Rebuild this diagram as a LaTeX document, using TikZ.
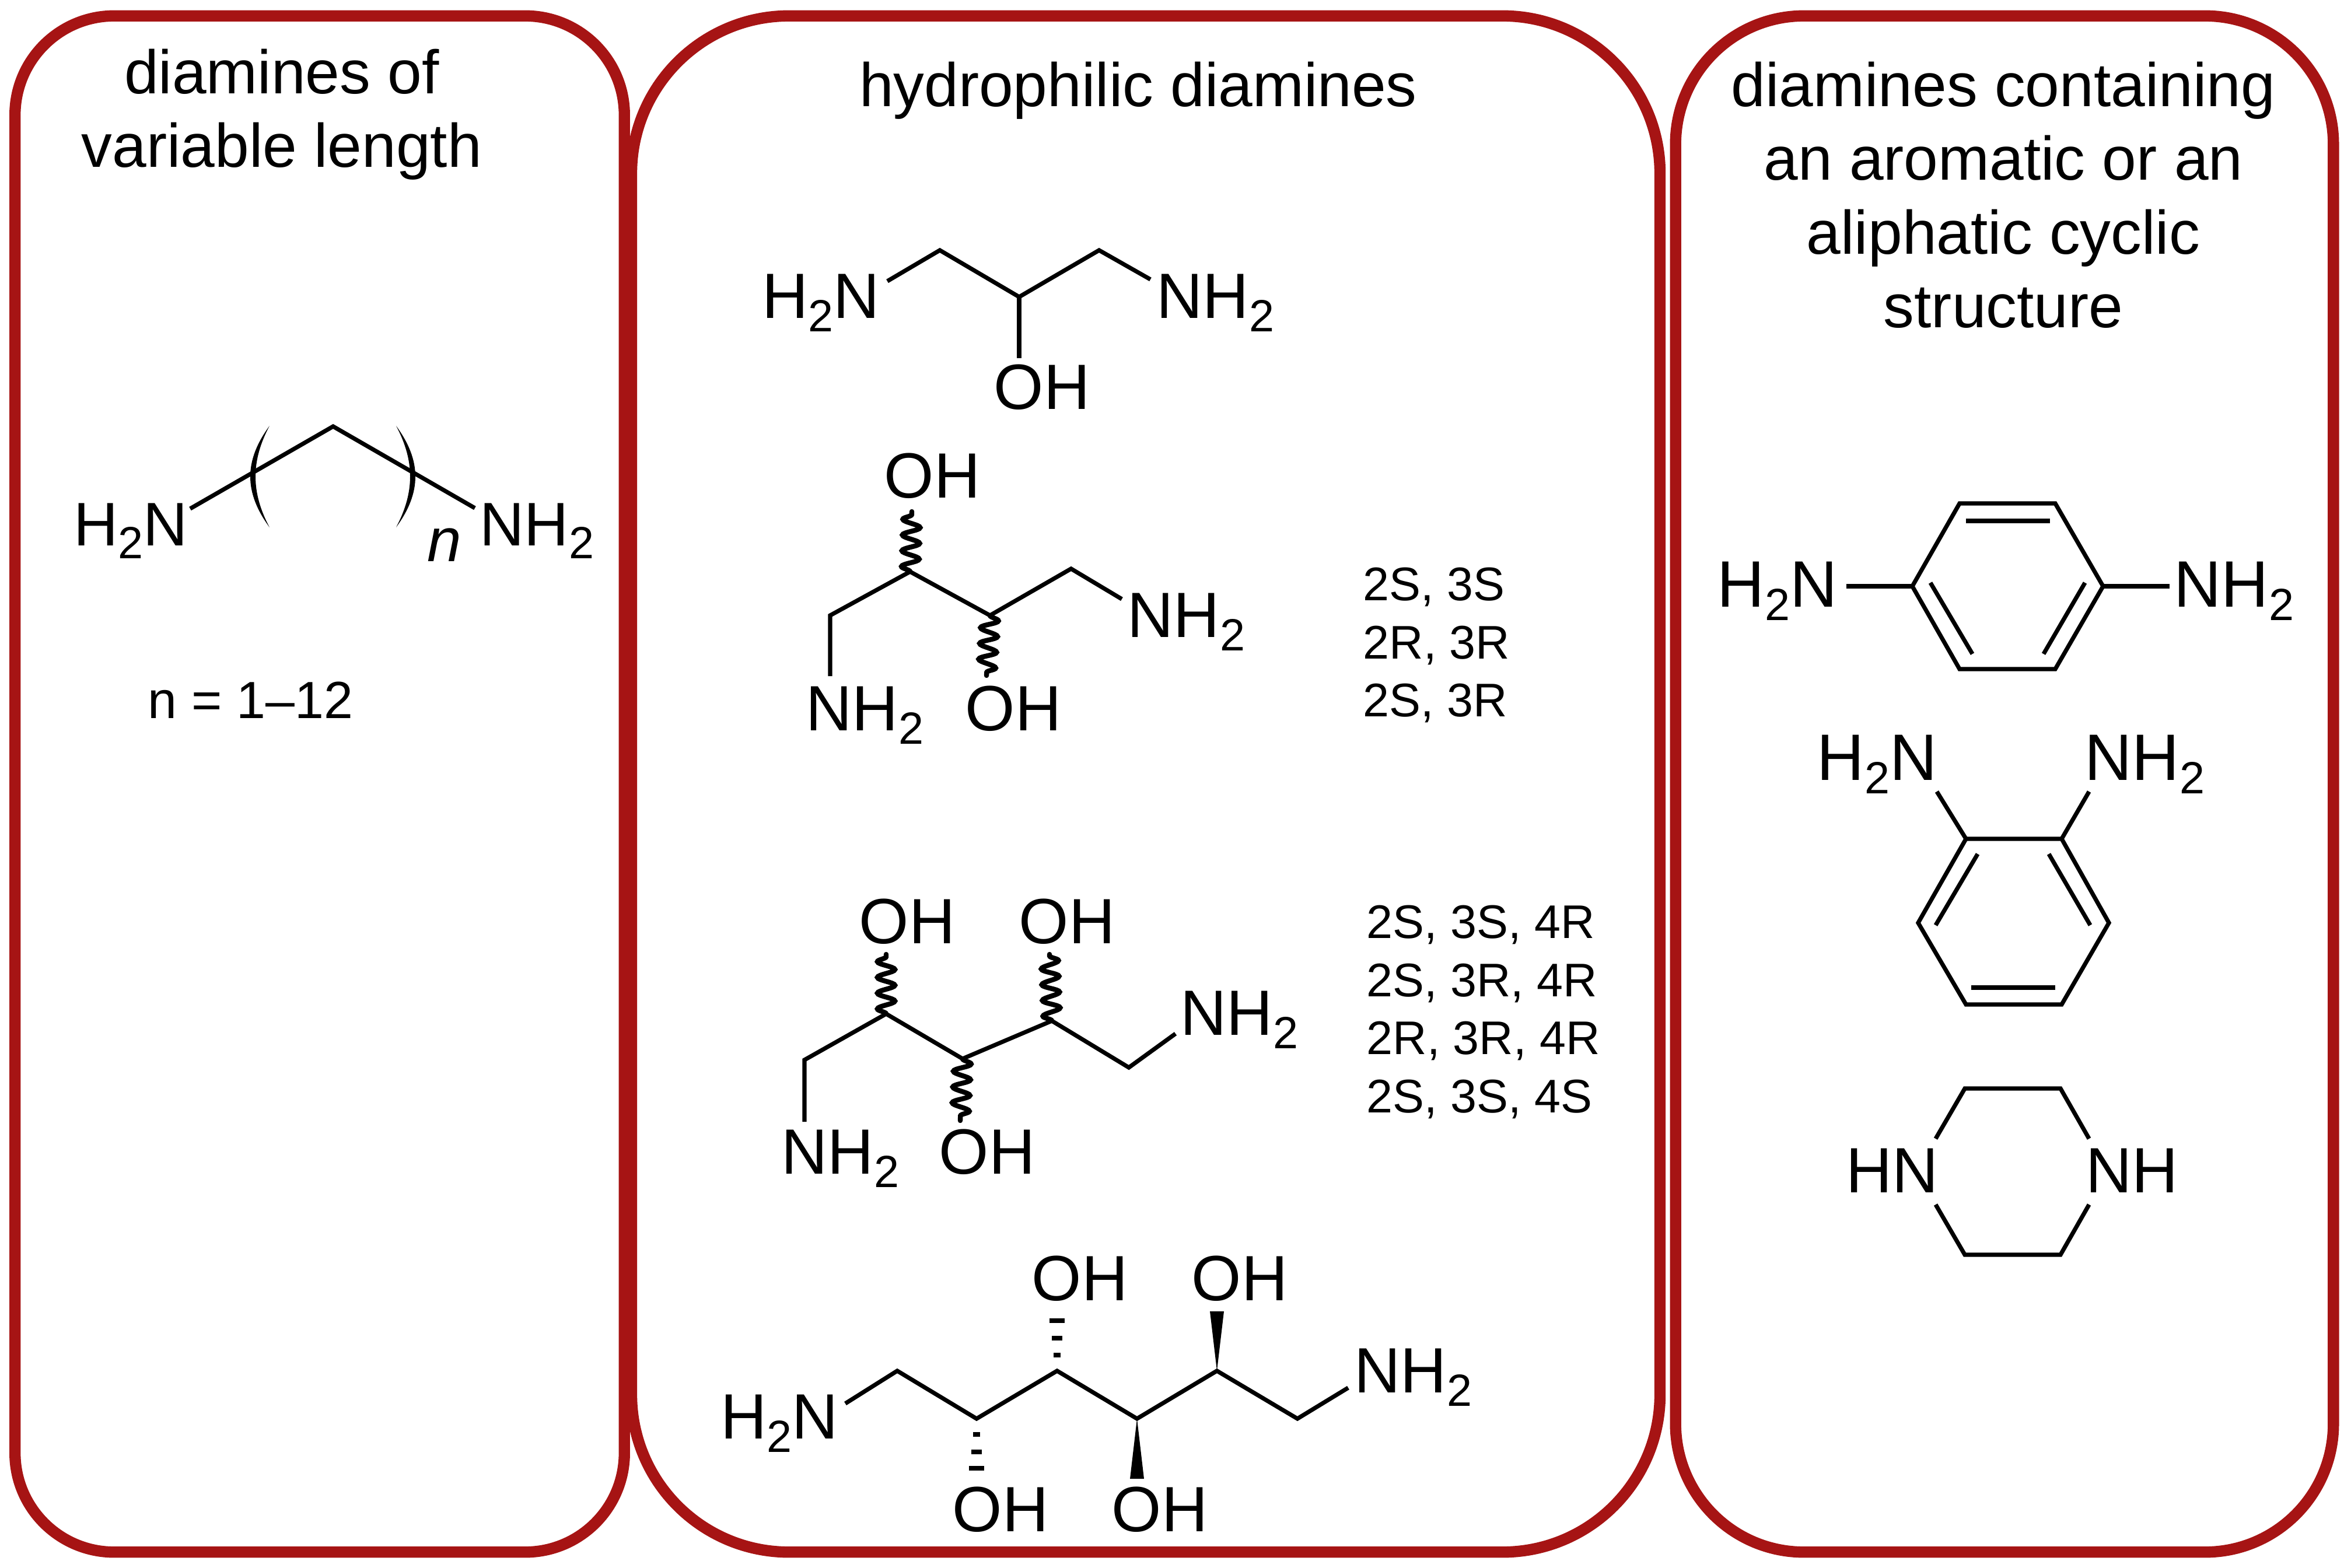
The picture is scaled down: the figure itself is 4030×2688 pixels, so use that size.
\documentclass[tikz,border=0pt]{standalone}
\usepackage{fontspec}
\setmainfont{Liberation Sans}
\usetikzlibrary{positioning,decorations.pathmorphing}

\definecolor{panelred}{RGB}{166,20,20}
\newcommand{\subtwo}{\raisebox{-0.21em}{\fontsize{22}{22}\selectfont 2}}

\begin{document}
\begin{tikzpicture}[x=0.01cm,y=-0.01cm]

        \tikzstyle{panel}=[shape=rectangle,draw=panelred,line width=5.5pt,inner sep=0pt]
        \tikzstyle{title}=[inner sep=0pt,anchor=north,align=center,font=\fontsize{30}{36}\selectfont]
        \tikzstyle{atom}=[inner sep=0pt,anchor=base west,xshift=-0.06cm,font=\fontsize{31.2}{36}\selectfont]
        \tikzstyle{smallatom}=[atom,font=\fontsize{30}{36}\selectfont]
        \tikzstyle{largeatom}=[atom,font=\fontsize{32}{36}\selectfont]
        \tikzstyle{isomer}=[inner sep=0pt,anchor=north west,align=left,font=\fontsize{23}{28.4}\selectfont]
        \tikzstyle{bond}=[line width=2.05pt,line join=miter]
        \tikzstyle{wavybond}=[line width=2.4pt,line cap=round,decorate,decoration={snake,amplitude=0.15cm,segment length=0.27cm}]

        \useasboundingbox (0,0) rectangle (4030,2688);

        \node[panel,minimum width=10.44cm,minimum height=26.32cm,rounded corners=1.7cm] (P1) at (548,1344) {};
        \node[panel,minimum width=17.62cm,minimum height=26.32cm,rounded corners=2.7cm] (P2) at (1964,1344) {};
        \node[panel,minimum width=11.27cm,minimum height=26.32cm,rounded corners=2.2cm] (P3) at (3436,1344) {};

        \node[title] (T1) at (483,83) {diamines of\\variable length};
        \node[title] (T2) at (1951,105) {hydrophilic diamines};
        \node[title] (T3) at (3434,105) {diamines containing\\an aromatic or an\\aliphatic cyclic\\structure};

        \node[smallatom] (A) at (132,935) {H\subtwo N};
        \node[smallatom] (B) at (828,935) {NH\subtwo};
        \node[atom,font=\fontsize{30}{36}\selectfont\itshape] (C) at (738,962) {n};
        \node[atom,font=\fontsize{25.5}{30}\selectfont] (D) at (259,1231) {n = 1–12};
        \coordinate (A1) at (326,872);
        \coordinate (A2) at (571,731);
        \coordinate (A3) at (814,871);
        \draw[bond] (A1) -- (A2) -- (A3);
        \fill (462,730) .. controls (418,790) and (418,844) .. (462,904) .. controls (430,844) and (430,790) .. (462,730);
        \fill (679,730) .. controls (723,790) and (723,844) .. (679,904) .. controls (711,844) and (711,790) .. (679,730);

        \node[atom] (E) at (1312,545) {H\subtwo N};
        \node[atom] (F) at (1988,545) {NH\subtwo};
        \node[atom] (G) at (1709,701) {OH};
        \coordinate (B1) at (1521,482);
        \coordinate (B2) at (1611,429);
        \coordinate (B3) at (1747,509);
        \coordinate (B4) at (1884,429);
        \coordinate (B5) at (1972,479);
        \coordinate (B6) at (1747,614);
        \draw[bond] (B1) -- (B2) -- (B3) -- (B4) -- (B5);
        \draw[bond] (B3) -- (B6);

        \node[atom] (H) at (1521,853) {OH};
        \node[atom] (I) at (1938,1092) {NH\subtwo};
        \node[atom] (J) at (1660,1252) {OH};
        \node[atom] (K) at (1387,1252) {NH\subtwo};
        \node[isomer] (L) at (2336,972) {2S, 3S\\2R, 3R\\2S, 3R};
        \coordinate (C1) at (1423,1159);
        \coordinate (C2) at (1423,1055);
        \coordinate (C3) at (1560,980);
        \coordinate (C4) at (1697,1055);
        \coordinate (C5) at (1836,975);
        \coordinate (C6) at (1923,1027);
        \coordinate (C7) at (1563,877);
        \coordinate (C8) at (1691,1158);
        \draw[bond] (C1) -- (C2) -- (C3) -- (C4) -- (C5) -- (C6);
        \draw[wavybond] (C3) -- (C7);
        \draw[wavybond] (C4) -- (C8);

        \node[atom] (M) at (1478,1617) {OH};
        \node[atom] (N) at (1752,1617) {OH};
        \node[atom] (O) at (2029,1774) {NH\subtwo};
        \node[atom] (Q) at (1615,2012) {OH};
        \node[atom] (R) at (1345,2012) {NH\subtwo};
        \node[isomer] (S) at (2342,1551) {2S, 3S, 4R\\2S, 3R, 4R\\2R, 3R, 4R\\2S, 3S, 4S};
        \coordinate (D1) at (1379,1923);
        \coordinate (D2) at (1379,1817);
        \coordinate (D3) at (1519,1738);
        \coordinate (D4) at (1650,1815);
        \coordinate (D5) at (1803,1750);
        \coordinate (D6) at (1935,1830);
        \coordinate (D7) at (2015,1772);
        \coordinate (D8) at (1519,1636);
        \coordinate (D9) at (1799,1636);
        \coordinate (D10) at (1646,1921);
        \draw[bond] (D1) -- (D2) -- (D3) -- (D4) -- (D5) -- (D6) -- (D7);
        \draw[wavybond] (D3) -- (D8);
        \draw[wavybond] (D5) -- (D9);
        \draw[wavybond] (D4) -- (D10);

        \node[atom] (U) at (1241,2466) {H\subtwo N};
        \node[atom] (V) at (2327,2387) {NH\subtwo};
        \node[atom] (W) at (1774,2229) {OH};
        \node[atom] (X) at (2048,2229) {OH};
        \node[atom] (Y) at (1638,2625) {OH};
        \node[atom] (Z) at (1911,2625) {OH};
        \coordinate (E1) at (1449,2406);
        \coordinate (E2) at (1538,2350);
        \coordinate (E3) at (1674,2432);
        \coordinate (E4) at (1812,2350);
        \coordinate (E5) at (1949,2432);
        \coordinate (E6) at (2086,2350);
        \coordinate (E7) at (2224,2432);
        \coordinate (E8) at (2311,2379);
        \draw[bond] (E1) -- (E2) -- (E3) -- (E4) -- (E5) -- (E6) -- (E7) -- (E8);
        \fill (E6) -- (2074,2248) -- (2098,2248) -- cycle;
        \fill (E5) -- (1937,2535) -- (1961,2535) -- cycle;
        \fill (1806,2319) rectangle (1818,2327);
        \fill (1803,2290) rectangle (1821,2298);
        \fill (1799,2260) rectangle (1825,2268);
        \fill (1668,2455) rectangle (1680,2463);
        \fill (1665,2485) rectangle (1683,2493);
        \fill (1661,2513) rectangle (1687,2521);

        \node[largeatom] (AA) at (2949,1040) {H\subtwo N};
        \node[largeatom] (AB) at (3732,1040) {NH\subtwo};
        \coordinate (F1) at (3278,1005);
        \coordinate (F2) at (3359,863);
        \coordinate (F3) at (3523,863);
        \coordinate (F4) at (3605,1005);
        \coordinate (F5) at (3523,1147);
        \coordinate (F6) at (3359,1147);
        \coordinate (F7) at (3165,1005);
        \coordinate (F8) at (3719,1005);
        \draw[bond] (F1) -- (F2) -- (F3) -- (F4) -- (F5) -- (F6) -- cycle;
        \draw[bond] (F7) -- (F1);
        \draw[bond] (F4) -- (F8);
        \draw[bond] (3370,893) -- (3514,893);
        \draw[bond] (3309,999) -- (3381,1121);
        \draw[bond] (3574,999) -- (3503,1121);

        \node[largeatom] (AC) at (3120,1337) {H\subtwo N};
        \node[largeatom] (AD) at (3579,1337) {NH\subtwo};
        \coordinate (G1) at (3370,1438);
        \coordinate (G2) at (3534,1438);
        \coordinate (G3) at (3615,1582);
        \coordinate (G4) at (3534,1722);
        \coordinate (G5) at (3370,1722);
        \coordinate (G6) at (3288,1582);
        \coordinate (G7) at (3320,1357);
        \coordinate (G8) at (3581,1357);
        \draw[bond] (G1) -- (G2) -- (G3) -- (G4) -- (G5) -- (G6) -- cycle;
        \draw[bond] (G7) -- (G1);
        \draw[bond] (G8) -- (G2);
        \draw[bond] (3390,1464) -- (3318,1586);
        \draw[bond] (3512,1464) -- (3583,1586);
        \draw[bond] (3379,1693) -- (3523,1693);

        \node[atom] (AE) at (3170,2044) {HN};
        \node[atom] (AF) at (3581,2044) {NH};
        \coordinate (H1) at (3318,1952);
        \coordinate (H2) at (3368,1866);
        \coordinate (H3) at (3532,1866);
        \coordinate (H4) at (3581,1952);
        \coordinate (H5) at (3318,2065);
        \coordinate (H6) at (3368,2151);
        \coordinate (H7) at (3532,2151);
        \coordinate (H8) at (3581,2065);
        \draw[bond] (H1) -- (H2) -- (H3) -- (H4);
        \draw[bond] (H5) -- (H6) -- (H7) -- (H8);
\end{tikzpicture}
\end{document}
